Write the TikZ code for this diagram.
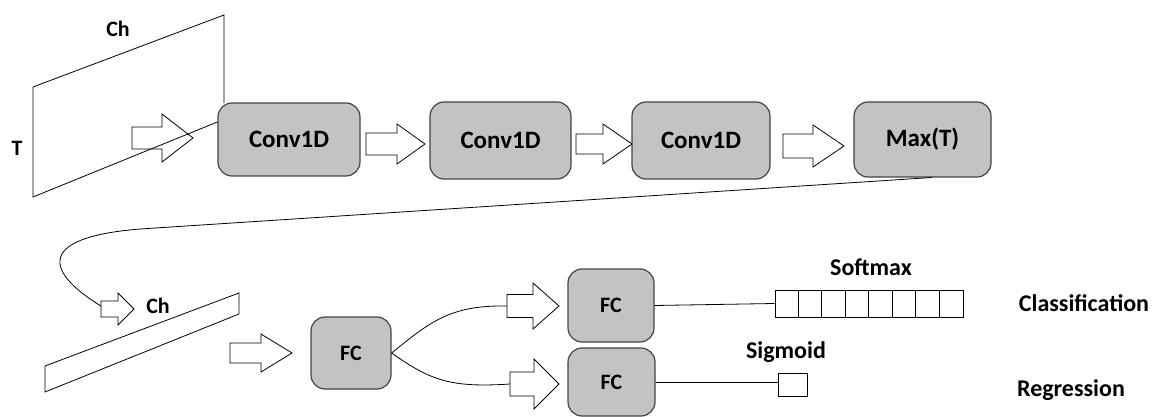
\documentclass[tikz,border=0pt]{standalone}
\usepackage{fontspec}
\setmainfont{Carlito}
\definecolor{boxfill}{HTML}{C3C3C3}
\definecolor{boxline}{HTML}{444444}
\newcommand{\barrow}[7]{% name, x0, xh, xt, yc, half shaft, half head
  \draw[blockarrow] (#2,#5-#6) -- (#3,#5-#6) -- (#3,#5-#7) -- (#4,#5) -- (#3,#5+#7) -- (#3,#5+#6) -- (#2,#5+#6) -- cycle;
  \coordinate (#1-tail) at (#2,#5);
  \coordinate (#1-tip) at (#4,#5);}
\begin{document}
\begin{tikzpicture}[x=0.5pt,y=-0.5pt,
  proc/.style={draw=boxline,line width=0.6pt,fill=boxfill,rounded corners=7pt,inner sep=0pt,font=\bfseries\fontsize{12.5}{14}\selectfont},
  fcbox/.style={proc,font=\bfseries\fontsize{11}{12}\selectfont},
  blockarrow/.style={draw=black,line width=0.4pt},
  thin/.style={draw=black,line width=0.4pt},
  lbl/.style={inner sep=0pt,font=\bfseries\fontsize{11}{12}\selectfont},
  biglbl/.style={inner sep=0pt,font=\bfseries\fontsize{12}{14}\selectfont}]
\useasboundingbox (0,0) rectangle (1158,417);
% processing boxes
\node[proc,minimum width=71pt,minimum height=36.5pt] (conv1) at (289,139.5) {Conv1D};
\node[proc,minimum width=70.5pt,minimum height=38.5pt] (conv2) at (500.5,140.5) {Conv1D};
\node[proc,minimum width=69pt,minimum height=38.5pt] (conv3) at (701,140.5) {Conv1D};
\node[proc,minimum width=68.5pt,minimum height=37.5pt] (maxt) at (922.5,139.5) {Max(T)};
\node[fcbox,minimum width=40pt,minimum height=36pt] (fc1) at (351,353) {FC};
\node[fcbox,minimum width=43pt,minimum height=36.5pt] (fc2) at (611,305.5) {FC};
\node[fcbox,minimum width=43.5pt,minimum height=34pt] (fc3) at (611.5,382) {FC};
% input plane
\coordinate (inB) at (conv1.west |- 0,122);
\draw[thin] (224,103) -- (224,15) -- (33,87) -- (33,197) -- (inB);
\node[lbl] (chA) at (118,29) {Ch};
\node[lbl] (tA) at (17,148) {T};
% block arrows
\barrow{a1}{132}{162}{193}{138}{11}{24}
\barrow{a2}{366}{397}{425}{144}{11}{20}
\barrow{a3}{576}{603}{632}{144}{10}{20}
\barrow{a4}{783}{813}{844}{146}{12}{21}
\barrow{ach}{101}{118}{134}{309}{8}{16}
\barrow{a5}{230}{261}{292}{353}{10}{19}
\barrow{a6}{507}{533}{559}{306}{11.5}{23}
\barrow{a7}{510}{534}{559}{384}{12}{25}
% feature vector
\draw[thin] (45,366) -- (239,293) -- (239,314) -- (45,392) -- cycle;
\node[lbl] (chB) at (158,306) {Ch};
% long connector from Max(T)
\coordinate (mx) at (932,177.5);
\coordinate (chIn) at (101,306);
\draw[thin] (mx) -- (140,229) .. controls (30,238) and (50,275) .. (chIn);
% branching
\draw[thin] (fc1.east) .. controls (430,322) and (450,305) .. (a6-tail);
\draw[thin] (fc1.east) .. controls (430,380) and (450,388) .. (a7-tail);
% outputs
\node[draw=black,line width=0.4pt,minimum width=94pt,minimum height=13.5pt,inner sep=0pt] (soft) at (869,303.5) {};
\foreach \i in {1,...,7} {\draw[thin] ([xshift=\i*11.75pt]soft.north west) -- ([xshift=\i*11.75pt]soft.south west);}
\node[draw=black,line width=0.4pt,minimum width=14.5pt,minimum height=11.5pt,inner sep=0pt] (sig) at (792.5,384.5) {};
\draw[thin] (fc2.east) -- (soft.west);
\draw[thin] (fc3.east) -- (fc3.east -| sig.west);
\node[biglbl] (softL) at (871,267) {Softmax};
\node[biglbl] (sigL) at (786,352) {Sigmoid};
\node[biglbl] (clsL) at (1084,303) {Classification};
\node[biglbl] (regL) at (1071,390) {Regression};
\end{tikzpicture}
\end{document}
